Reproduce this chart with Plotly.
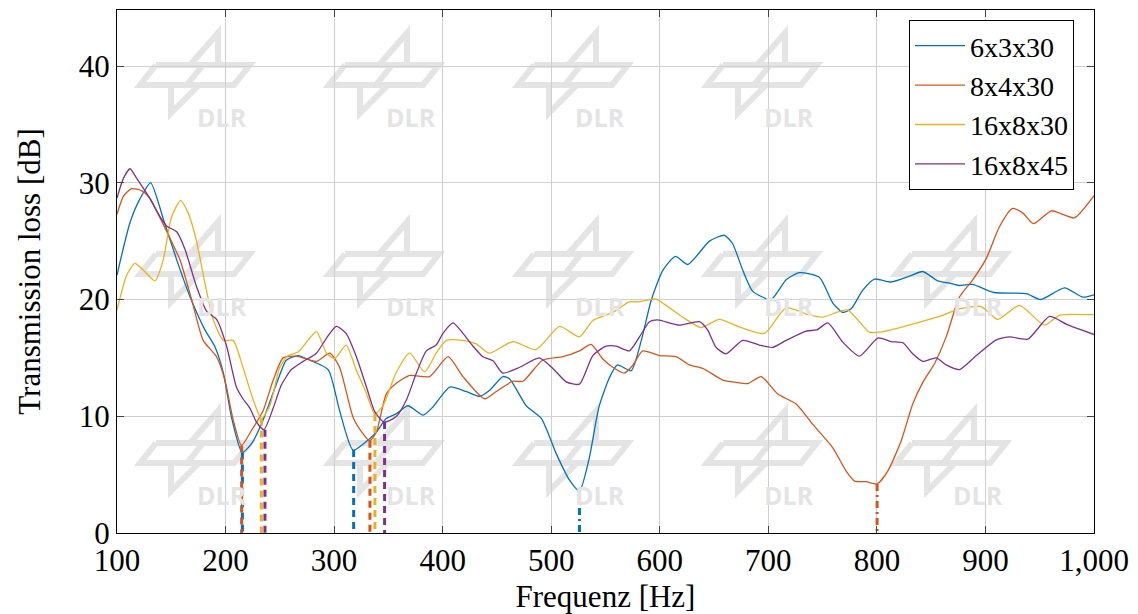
import plotly.graph_objects as go

# ---------------- data ----------------
names = ["6x3x30", "8x4x30", "16x8x30", "16x8x45"]
colors = ["#0072BD", "#D95319", "#EDB120", "#7E2F8E"]

f_6x3x30 = [100, 112, 121, 131, 143, 155, 167, 181, 190, 198, 205.5, 215.3, 224, 234.7, 247, 256, 267, 277.6,
            294.5, 305, 317.5, 333, 339, 348, 357, 368, 382, 391, 406.5, 422, 434, 443, 455.5, 461.7, 477, 491,
            504.6, 517, 526, 535, 544, 553.6, 561, 573.6, 583, 592, 602.8, 614.4, 625.8, 645.8, 659.6, 667,
            676.5, 685.7, 702.6, 716.4, 728.7, 747, 759.4, 768.6, 776.3, 787, 797.8, 813, 830, 842.3, 856, 867,
            876, 888, 908, 937.5, 951, 972.9, 989.7, 1000]
tl_6x3x30 = [22.1, 26.6, 28.6, 30.0, 26.8, 23.4, 20.3, 17.4, 16.0, 13.7, 9.9, 6.9, 7.65, 9.7, 12.8, 14.8, 15.2, 14.8,
             14.0, 10.5, 7.1, 8.1, 8.65, 9.8, 10.2, 10.9, 10.1, 10.8, 12.5, 12.1, 11.7, 12.2, 13.4, 13.2, 10.9, 9.8,
             6.8, 4.5, 3.6, 6.4, 10.8, 13.3, 14.4, 13.9, 16.5, 19.9, 22.5, 23.7, 23.0, 25.0, 25.5, 24.8,
             22.5, 20.7, 20.0, 21.7, 22.3, 21.9, 19.7, 18.9, 19.2, 20.8, 21.75, 21.5, 22.0, 22.4, 21.6, 21.4,
             21.2, 21.3, 20.6, 20.5, 20.0, 21.0, 20.2, 20.4]

f_8x4x30 = [100, 106, 113.5, 123, 130, 138, 147, 158, 168.7, 179.4, 191.7, 199.4, 207, 214.7, 224, 234.7, 243.9,
            253, 265, 283.7, 296, 305, 317.5, 326.7, 332.8, 339, 348, 357, 369.6, 388, 405, 418.7, 438.6, 449,
            464.7, 474, 492, 510.7, 526, 536.7, 547.5, 556.7, 567.4, 575, 584.3, 599.7, 615, 627.3, 639.6, 658,
            670.3, 681, 693.4, 708.7, 725.6, 741, 759.4, 771.7, 779.4, 790, 800.2, 810, 822.4, 833, 842.3, 853,
            863.8, 876, 888.4, 900.7, 913, 925, 934.5, 944.3, 960.6, 971, 982, 1000]
tl_8x4x30 = [27.3, 28.85, 29.5, 29.3, 28.7, 27.3, 25.6, 23.4, 20.0, 16.5, 15.1, 13.1, 9.7, 7.5, 8.8, 10.5, 13.1,
             15.0, 15.15, 14.7, 15.4, 14.2, 9.9, 8.5, 7.9, 8.65, 11.9, 12.8, 13.5, 13.4, 15.1, 13.4, 11.5, 12.1,
             13.0, 13.0, 14.8, 15.1, 15.6, 16.15, 14.9, 14.2, 13.7, 14.35, 15.6, 15.2, 15.1, 14.4, 14.1, 13.1,
             12.9, 12.8, 13.4, 11.9, 11.05, 9.3, 7.3, 5.3, 4.45, 4.4, 4.2, 5.3, 7.9, 11.05, 12.9, 14.5,
             16.8, 20.2, 21.7, 23.5, 26.25, 27.8, 27.4, 26.5, 27.6, 27.3, 27.0, 28.9]

f_16x8x30 = [100, 109, 116.5, 124, 135, 142.6, 150, 158.6, 165.6, 173, 181, 188.7, 198, 207, 216, 225.5, 233,
             240.8, 250, 257.7, 267, 283.7, 293, 300.6, 311, 320.5, 329.8, 337.4, 345, 357, 369.6, 383.4, 394,
             403.4, 418.7, 431, 443, 464.7, 486, 507.7, 526, 538.3, 556.7, 572, 581, 596, 605.8, 621, 638, 655,
             673.4, 696.4, 716.4, 736.4, 750, 773, 793, 802.4, 833, 857.7, 876, 896, 911.4, 931.4, 954.4, 968.2,
             1000]
tl_16x8x30 = [19.1, 22.1, 23.1, 22.55, 21.6, 23.4, 27.0, 28.5, 27.4, 25.1, 21.4, 18.25, 16.5, 16.5, 14.2, 11.4, 9.8,
              10.9, 14.2, 15.2, 15.5, 17.25, 15.4, 14.95, 16.1, 13.95, 11.95, 10.2, 10.9, 13.7, 15.4, 13.8, 15.4,
              16.5, 16.5, 16.2, 15.4, 16.4, 15.7, 17.7, 16.8, 18.2, 18.9, 19.8, 19.8, 20.05, 19.5, 18.5, 17.6, 18.3,
              17.65, 17.1, 19.3, 18.7, 18.5, 19.1, 17.2, 17.2, 17.9, 18.55, 19.2, 19.4, 18.3, 19.5, 17.8, 18.65,
              18.7]

f_16x8x45 = [100, 106, 112, 118, 130, 139.6, 145.7, 155, 162.6, 173.3, 182.5, 191.7, 201, 210, 216, 222.4, 228.5,
             235.3, 243.9, 251.5, 260.7, 271.5, 283.7, 293, 302, 311, 320.5, 329.8, 337.4, 346, 357, 366.6, 375.8,
             385, 394, 400.3, 409.5, 418.7, 428, 437, 446.3, 455.5, 471, 489, 501.5, 513.8, 526, 538.3, 550.6,
             559.8, 572, 581.3, 590.5, 598, 618, 636.5, 644, 651.9, 661, 676.5, 691.7, 704, 716.4, 734.8, 744.7,
             754.8, 768.6, 784, 800.9, 813, 824, 833, 842.3, 854.6, 863.8, 876, 891.6, 910, 922.4, 939, 959,
             974.4, 989.7, 1000]
tl_16x8x45 = [28.7, 30.4, 31.2, 30.4, 28.7, 27.1, 26.3, 25.8, 24.3, 21.1, 19.0, 18.3, 16.0, 12.5, 11.5, 10.7, 9.5,
              8.85, 10.7, 12.7, 14.0, 14.7, 15.4, 16.7, 17.7, 17.1, 15.1, 12.5, 10.4, 9.5, 9.95, 11.4, 13.7,
              15.6, 16.1, 17.1, 18.0, 17.1, 16.0, 15.1, 14.75, 13.7, 14.2, 15.0, 14.1, 12.95, 12.75, 15.2, 16.0,
              16.0, 15.6, 16.8, 18.1, 18.25, 17.8, 18.1, 17.4, 15.9, 15.35, 16.5, 16.1, 15.9, 16.5, 17.3, 17.4,
              18.0, 16.35, 15.15, 16.7, 16.4, 16.3, 15.35, 14.7, 15.0, 14.4, 14.0, 15.2, 16.55, 16.8, 16.6, 18.55,
              17.9, 17.35, 17.0]

# resonance minima (frequency, value, line style)
min_f_6x3x30 = [215.5, 318, 526]
min_v_6x3x30 = [6.9, 7.1, 3.6]
min_s_6x3x30 = ["dash", "dash", "dashdot"]
min_f_8x4x30 = [214.8, 333, 800.2]
min_v_8x4x30 = [7.5, 7.9, 4.2]
min_s_8x4x30 = ["dash", "dash", "dashdot"]
min_f_16x8x30 = [233, 337.6]
min_v_16x8x30 = [9.8, 10.2]
min_s_16x8x30 = ["dash", "dash"]
min_f_16x8x45 = [236.3, 346.5]
min_v_16x8x45 = [8.85, 9.5]
min_s_16x8x45 = ["dash", "dash"]

x_ticks = [100, 200, 300, 400, 500, 600, 700, 800, 900, 1000]
x_ticktext = ["100", "200", "300", "400", "500", "600", "700", "800", "900", "1,000"]
y_ticks = [0, 10, 20, 30, 40]

curves = [(f_6x3x30, tl_6x3x30), (f_8x4x30, tl_8x4x30), (f_16x8x30, tl_16x8x30), (f_16x8x45, tl_16x8x45)]
minima = [(min_f_6x3x30, min_v_6x3x30, min_s_6x3x30), (min_f_8x4x30, min_v_8x4x30, min_s_8x4x30),
          (min_f_16x8x30, min_v_16x8x30, min_s_16x8x30), (min_f_16x8x45, min_v_16x8x45, min_s_16x8x45)]

# ---------------- layout geometry ----------------
W, H = 1138, 614
ML, MR, MT, MB = 117, 44, 10, 81
PW, PH = W - ML - MR, H - MT - MB
FONT = "Liberation Serif"
WM_COLOR = "#e4e4e4"

fig = go.Figure()

for (fx, tv), name, c in zip(curves, names, colors):
    fig.add_trace(go.Scatter(x=fx, y=tv, mode="lines", name=name,
                             line=dict(color=c, width=1.3, shape="spline", smoothing=0.6)))

dash_map = {"dash": "7px,5px", "dashdot": "7px,4px,2px,4px"}
for (mf, mv, ms), c in zip(minima, colors):
    for f0, v0, s0 in zip(mf, mv, ms):
        fig.add_trace(go.Scatter(x=[f0, f0], y=[v0, 0], mode="lines", showlegend=False,
                                 hoverinfo="skip", line=dict(color=c, width=3, dash=dash_map[s0])))

# ---------------- DLR watermark (decoration, pixel-based) ----------------
def px2paper(px, py):
    return (px - ML) / PW, (MT + PH - py) / PH

logo_polys = [
    [(-62, 32), (32, 32), (16, 52), (-78, 52), (-62, 32)],   # band
    [(-15, 32), (-31, 52)],                                  # band divider
    [(-28, 32), (0, 0), (0, 32)],                            # upper triangle
    [(-47, 52), (-47, 80), (-19, 52)],                       # lower triangle
]
shapes = []
annotations = []
for ay in [33, 222, 411]:
    for ax in [218, 407, 596, 785, 974]:
        if ay == 33 and ax == 974:
            continue  # hidden behind the legend box
        for poly in logo_polys:
            pts = [px2paper(ax + dx, ay + dy) for dx, dy in poly]
            path = "M " + " L ".join(f"{x:.5f},{y:.5f}" for x, y in pts)
            shapes.append(dict(type="path", xref="paper", yref="paper", path=path, layer="below",
                               line=dict(color=WM_COLOR, width=6)))
        tx, ty = px2paper(ax + 4, ay + 84)
        annotations.append(dict(xref="paper", yref="paper", x=tx, y=ty, text="<b>DLR</b>", showarrow=False,
                                font=dict(family="Open Sans, DejaVu Sans", size=25, color=WM_COLOR),
                                xanchor="center", yanchor="middle"))

fig.update_layout(
    width=W, height=H,
    margin=dict(l=ML, r=MR, t=MT, b=MB, autoexpand=False),
    paper_bgcolor="white", plot_bgcolor="white",
    font=dict(family=FONT, size=31, color="black"),
    shapes=shapes, annotations=annotations,
    showlegend=True,
    legend=dict(x=(1074 - ML) / PW, y=(MT + PH - 20) / PH, xanchor="right", yanchor="top",
                bgcolor="white", bordercolor="black", borderwidth=1,
                font=dict(family=FONT, size=28), tracegroupgap=0, itemwidth=50),
)
fig.update_xaxes(range=[100, 1000], tickvals=x_ticks, ticktext=x_ticktext, automargin=False,
                 showgrid=True, gridcolor="#cfcfcf", gridwidth=1,
                 showline=True, linecolor="black", linewidth=1, mirror="ticks",
                 ticks="inside", ticklen=7, tickcolor="#444", zeroline=False,
                 title=dict(text="Frequenz [Hz]", standoff=14, font=dict(family=FONT, size=31)),
                 tickfont=dict(family=FONT, size=31))
fig.update_yaxes(range=[0, 44.8], tickvals=y_ticks, automargin=False,
                 showgrid=True, gridcolor="#cfcfcf", gridwidth=1,
                 showline=True, linecolor="black", linewidth=1, mirror="ticks",
                 ticks="inside", ticklen=7, tickcolor="#444", zeroline=False,
                 title=dict(text="Transmission loss [dB]", standoff=28, font=dict(family=FONT, size=31)),
                 tickfont=dict(family=FONT, size=31))

fig.write_html("out.html")
